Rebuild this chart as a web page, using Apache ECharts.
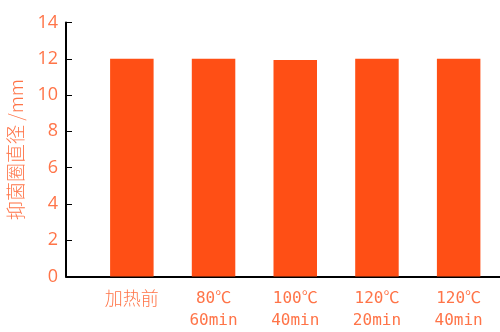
<!DOCTYPE html>
<html><head><meta charset="utf-8">
<script src="https://cdn.jsdelivr.net/npm/echarts@6/dist/echarts.min.js"></script>
<style>html,body{margin:0;padding:0;background:#fff}#c{width:500px;height:332px}</style>
</head><body><div id="c"></div>
<script>
const categories = ['加热前', '80℃\n60min', '100℃\n40min', '120℃\n20min', '120℃\n40min'];
const values = [12, 12, 11.93, 12, 12];
const yTicks = [0, 2, 4, 6, 8, 10, 12, 14];
const yName = '抑菌圈直径 /mm';

const txt = '#FF7448';
const chart = echarts.init(document.getElementById('c'), null, {renderer: 'canvas'});
chart.setOption({
  animation: false,
  grid: [
    {left: 91, right: 0.5, top: 22.5, bottom: 55.5, outerBoundsMode: 'none', containLabel: false},
    {left: 66, width: 25, top: 22.5, bottom: 55.5, outerBoundsMode: 'none', containLabel: false}
  ],
  xAxis: [{
    type: 'category', data: categories, gridIndex: 0,
    axisLine: {lineStyle: {color: '#000', width: 2}},
    axisTick: {inside: true, length: 4, lineStyle: {color: '#000', width: 1},
      interval: function (i) { return i !== 0; }},
    axisLabel: {interval: 0, hideOverlap: false, color: txt, fontSize: 16, lineHeight: 22, margin: 11,
      fontFamily: 'DejaVu Sans Mono, Noto Sans CJK JP',
      formatter: function (v) { return /\n/.test(v) ? v : '{cn|' + v + '}'; },
      rich: {cn: {fontSize: 18, lineHeight: 22, color: txt, fontWeight: 300,
        fontFamily: 'Noto Sans CJK JP'}}}
  }, {
    type: 'value', gridIndex: 1, min: 0, max: 1,
    axisLine: {show: true, lineStyle: {color: '#000', width: 2}},
    axisTick: {show: false}, axisLabel: {show: false}, splitLine: {show: false}
  }],
  yAxis: [{
    type: 'value', gridIndex: 0, min: yTicks[0], max: yTicks[yTicks.length - 1], interval: 2,
    offset: 25,
    name: yName, nameLocation: 'middle', nameGap: 41, nameRotate: 90,
    nameTextStyle: {color: txt, fontSize: 19, fontWeight: 300, fontFamily: 'Noto Sans CJK JP'},
    axisLine: {show: true, lineStyle: {color: '#000', width: 2}},
    axisTick: {show: true, inside: true, length: 6, lineStyle: {color: '#000', width: 1}},
    axisLabel: {color: txt, fontSize: 18, margin: 8, fontFamily: 'Open Sans'},
    splitLine: {show: false}
  }, {
    type: 'value', gridIndex: 1, show: false
  }],
  series: [{
    type: 'bar', data: values, xAxisIndex: 0, yAxisIndex: 0,
    barWidth: 43.5, itemStyle: {color: '#FF4F15'}
  }]
});
</script></body></html>
